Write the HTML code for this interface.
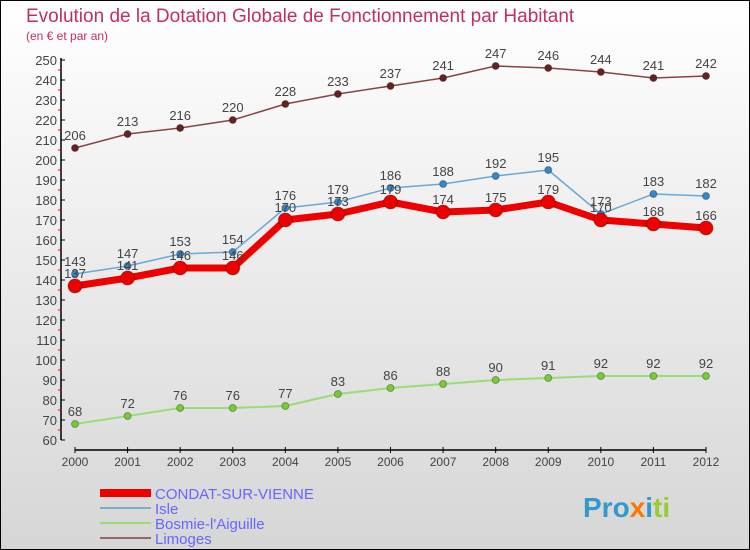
<!DOCTYPE html>
<html><head><meta charset="utf-8"><style>
body{margin:0}
#c{width:750px;height:550px;position:relative;box-sizing:border-box;border:1px solid #000;background:linear-gradient(#ffffff,#d6d6d6);font-family:"Liberation Sans",sans-serif;overflow:hidden}
</style></head><body>
<div id="c">
<svg id="s" width="750" height="550" style="position:absolute;left:-1px;top:-1px">
<text x="26" y="22" font-size="19" fill="#c0305a">Evolution de la Dotation Globale de Fonctionnement par Habitant</text>
<text x="26" y="40" font-size="12" fill="#c0305a">(en € et par an)</text>
<g id="axes"></g><g id="series"></g>
<g>
<rect x="100" y="489" width="51" height="8" fill="#e00"/>
<text x="155" y="499" font-size="15" fill="#6666ff">CONDAT-SUR-VIENNE</text>
<line x1="100" y1="508" x2="151" y2="508" stroke="#7aaed0" stroke-width="2"/>
<text x="155" y="514" font-size="15" fill="#6666ff">Isle</text>
<line x1="100" y1="523" x2="151" y2="523" stroke="#99dd77" stroke-width="2"/>
<text x="155" y="529" font-size="15" fill="#6666ff">Bosmie-l'Aiguille</text>
<line x1="100" y1="538" x2="151" y2="538" stroke="#996666" stroke-width="2"/>
<text x="155" y="544" font-size="15" fill="#6666ff">Limoges</text>
</g>
<text x="583" y="517" font-size="28" font-weight="bold"><tspan fill="#3399cc">Pro</tspan><tspan fill="#ff7700">x</tspan><tspan fill="#3399cc">i</tspan><tspan fill="#99cc33">ti</tspan></text>
</svg>
</div>
<script>
const years=[2000,2001,2002,2003,2004,2005,2006,2007,2008,2009,2010,2011,2012];
const condat=[137,141,146,146,170,173,179,174,175,179,170,168,166];
const isle=[143,147,153,154,176,179,186,188,192,195,173,183,182];
const bosmie=[68,72,76,76,77,83,86,88,90,91,92,92,92];
const limoges=[206,213,216,220,228,233,237,241,247,246,244,241,242];
const yTicks=[60,70,80,90,100,110,120,130,140,150,160,170,180,190,200,210,220,230,240,250];
const NS="http://www.w3.org/2000/svg";
function xS(i){return 75+i*(706-75)/(years.length-1);}
function yS(v){return 440-(v-60)*2;}
function mk(t,a,p){const e=document.createElementNS(NS,t);for(const k in a)e.setAttribute(k,a[k]);p.appendChild(e);return e;}
const ax=document.getElementById('axes'),sg=document.getElementById('series');
let l=mk('line',{x1:61,y1:yS(250)-2,x2:61,y2:yS(60),stroke:'#000','stroke-width':1.5},ax);


l=mk('line',{x1:xS(0),y1:450,x2:xS(12),y2:450,stroke:'#000','stroke-width':1.5},ax);


yTicks.forEach(v=>{
 mk('line',{x1:61,y1:yS(v),x2:65,y2:yS(v),stroke:'#000'},ax);
 if(v<250)mk('line',{x1:58,y1:yS(v+5),x2:62,y2:yS(v+5),stroke:'#e00'},ax);
 const t=mk('text',{x:57,y:yS(v)+5,'font-size':13,fill:'#444','text-anchor':'end'},ax);t.textContent=v;
 
 
});
years.forEach((y,i)=>{
 mk('line',{x1:xS(i),y1:447,x2:xS(i),y2:453,stroke:'#000'},ax);
 const t=mk('text',{x:xS(i),y:466,'font-size':12,fill:'#444','text-anchor':'middle'},ax);t.textContent=y;
 
 
});
function series(d,color,w,r,dot,name){
 const g=mk('g',{},sg);
 
 
 mk('polyline',{points:d.map((v,i)=>xS(i)+','+yS(v)).join(' '),fill:'none',stroke:color,'stroke-width':w,'stroke-linejoin':'round'},g);
 d.forEach((v,i)=>{
  const c=mk('circle',{cx:xS(i),cy:yS(v),r:r,fill:dot,stroke:'rgba(0,0,0,0.3)','stroke-width':1},g);
  
  
  const t=mk('text',{x:xS(i),y:yS(v)-8,'font-size':13,fill:'#444','text-anchor':'middle'},g);t.textContent=v;
  
  
 });
}
series(limoges,'#884444',1.5,3.5,'#662222','limoges');
series(bosmie,'#99dd77',2,3.5,'#77cc33','bosmie');
series(isle,'#6aa8d8',1.5,3.5,'#3388cc','isle');
series(condat,'#ee0000',7,7,'#ee0000','condat');
</script>
</body></html>
